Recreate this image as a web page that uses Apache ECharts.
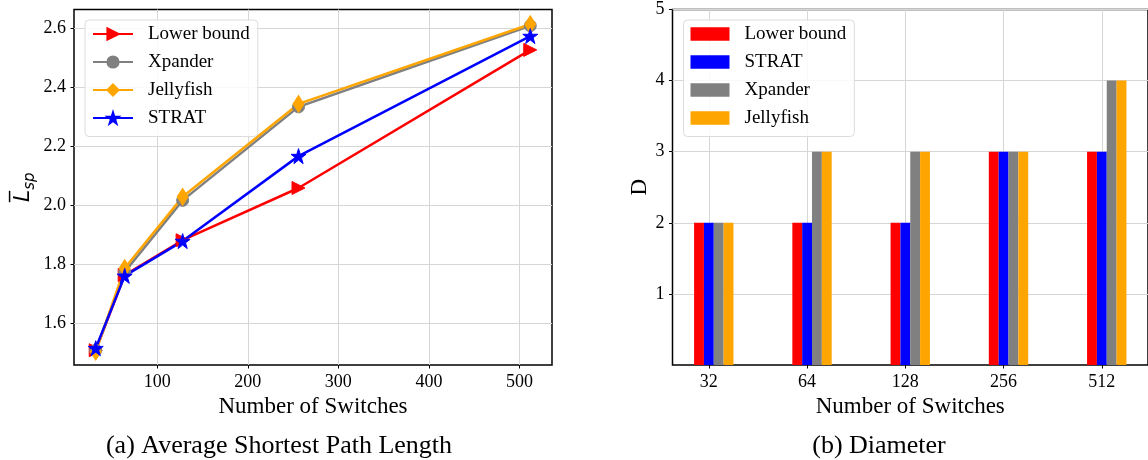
<!DOCTYPE html>
<html>
<head>
<meta charset="utf-8">
<script src="https://cdn.jsdelivr.net/npm/echarts@6/dist/echarts.min.js"></script>
<style>
  html, body { margin: 0; padding: 0; background: #fff; }
  #chart { width: 1148px; height: 460px; }
</style>
</head>
<body>
<div id="chart"></div>
<script>
// (a) average shortest path length
const switchCounts = [32, 64, 128, 256, 512];
const lowerBoundAvg = [1.51, 1.765, 1.883, 2.06, 2.528];
const xpanderAvg = [1.51, 1.775, 2.018, 2.335, 2.61];
const jellyfishAvg = [1.505, 1.788, 2.03, 2.345, 2.615];
const stratAvg = [1.517, 1.762, 1.88, 2.168, 2.575];
const avgXTicks = [100, 200, 300, 400, 500];
const avgYTicks = [1.6, 1.8, 2.0, 2.2, 2.4, 2.6];

// (b) diameter
const switchLabels = ['32', '64', '128', '256', '512'];
const lowerBoundDiam = [2, 2, 2, 3, 3];
const stratDiam = [2, 2, 2, 3, 3];
const xpanderDiam = [2, 3, 3, 3, 4];
const jellyfishDiam = [2, 3, 3, 3, 4];
const diamXTicks = [0, 1, 2, 3, 4];
const diamYTicks = [1, 2, 3, 4, 5];

const RED = '#ff0000', BLUE = '#0000ff', GRAY = '#808080', ORANGE = '#ffa500';
const SERIF = 'Liberation Serif';
const STAR = 'path://M50,0L61.2,34.5L97.6,34.5L68.2,55.9L79.4,90.5L50,69.1L20.6,90.5L31.8,55.9L2.4,34.5L38.8,34.5Z';
const BAR_W = 9.84;

const chart = echarts.init(document.getElementById('chart'));

function pairs(xs, ys) {
  return xs.map((x, i) => [x, ys[i]]);
}

function lineSeries(name, vals, color, symbol, size, rotate) {
  return {
    type: 'line', name: name, xAxisIndex: 0, yAxisIndex: 0,
    data: pairs(switchCounts, vals),
    symbol: symbol, symbolSize: size, symbolRotate: rotate || 0,
    showAllSymbol: true,
    lineStyle: { color: color, width: 2.5 },
    itemStyle: { color: color, borderColor: color, borderWidth: 1 },
    emphasis: { disabled: true },
    animation: false
  };
}

function barSeries(name, vals, color) {
  return {
    type: 'bar', name: name, xAxisIndex: 1, yAxisIndex: 1,
    data: pairs(diamXTicks, vals),
    barWidth: BAR_W, barGap: '0%',
    itemStyle: { color: color },
    emphasis: { disabled: true },
    animation: false
  };
}

const tickStyle = { fontFamily: SERIF, fontSize: 18, color: '#000' };
const axisTitle = { fontFamily: SERIF, fontSize: 23, color: '#000' };
const gridLine = { show: true, lineStyle: { color: '#d6d6d6', width: 1 } };
const noLine = { show: false, onZero: false };
const legendBase = {
  orient: 'vertical', top: 20, itemGap: 9,
  padding: [4.5, 8, 9, 7],
  backgroundColor: 'rgba(255,255,255,0.85)',
  borderColor: '#dcdcdc', borderWidth: 1, borderRadius: 4,
  textStyle: { fontFamily: SERIF, fontSize: 19, color: '#000', padding: [0, 0, 0, 10] },
  selectedMode: false
};

const option = {
  animation: false,
  grid: [
    { left: 74, top: 9.5, width: 478, height: 355.5, show: true, borderColor: '#000', borderWidth: 1.5 },
    { left: 672.5, top: 9.5, width: 475.5, height: 355.5, show: true, borderColor: '#000', borderWidth: 1.5 }
  ],
  xAxis: [
    {
      type: 'value', gridIndex: 0, min: 8, max: 536,
      axisLine: noLine,
      axisTick: { show: true, length: 3.5, lineStyle: { color: '#000' }, customValues: avgXTicks },
      axisLabel: Object.assign({ margin: 8, customValues: avgXTicks }, tickStyle),
      splitLine: gridLine,
      name: 'Number of Switches', nameLocation: 'middle', nameGap: 29, nameTextStyle: axisTitle
    },
    {
      type: 'value', gridIndex: 1, min: -0.37, max: 4.47,
      axisLine: noLine,
      axisTick: { show: true, length: 3.5, lineStyle: { color: '#000' }, customValues: diamXTicks },
      axisLabel: Object.assign({
        margin: 8, customValues: diamXTicks,
        formatter: v => switchLabels[Math.round(v)] || ''
      }, tickStyle),
      splitLine: gridLine,
      name: 'Number of Switches', nameLocation: 'middle', nameGap: 29, nameTextStyle: axisTitle
    }
  ],
  yAxis: [
    {
      type: 'value', gridIndex: 0, min: 1.46, max: 2.665,
      axisLine: noLine,
      axisTick: { show: true, length: 3.5, lineStyle: { color: '#000' }, customValues: avgYTicks },
      axisLabel: Object.assign({ margin: 8, customValues: avgYTicks, formatter: v => v.toFixed(1) }, tickStyle),
      splitLine: gridLine,
      name: '{l|L\u0305}{s|sp}', nameLocation: 'middle', nameGap: 36,
      nameTextStyle: {
        rich: {
          l: { fontFamily: 'DejaVu Sans', fontStyle: 'italic', fontSize: 22, color: '#000', lineHeight: 30 },
          s: { fontFamily: 'DejaVu Sans', fontStyle: 'italic', fontSize: 15, color: '#000', lineHeight: 15, verticalAlign: 'bottom' }
        }
      }
    },
    {
      type: 'value', gridIndex: 1, min: 0, max: 5, interval: 1,
      axisLine: noLine,
      axisTick: { show: true, length: 3.5, lineStyle: { color: '#000' }, customValues: diamYTicks },
      axisLabel: Object.assign({ margin: 8, customValues: diamYTicks }, tickStyle),
      splitLine: gridLine,
      name: 'D', nameLocation: 'middle', nameGap: 21, nameTextStyle: axisTitle
    }
  ],
  legend: [
    Object.assign({}, legendBase, {
      left: 85, itemWidth: 40, itemHeight: 14,
      data: ['Lower bound', 'Xpander', 'Jellyfish', 'STRAT']
    }),
    Object.assign({}, legendBase, {
      left: 683.5, itemWidth: 39, itemHeight: 13.5, icon: 'rect',
      data: ['Lower bound (b)', 'STRAT (b)', 'Xpander (b)', 'Jellyfish (b)'],
      formatter: name => name.replace(' (b)', '')
    })
  ],
  series: [
    lineSeries('Lower bound', lowerBoundAvg, RED, 'triangle', 13, -90),
    lineSeries('Xpander', xpanderAvg, GRAY, 'circle', 12),
    lineSeries('Jellyfish', jellyfishAvg, ORANGE, 'diamond', [11, 17]),
    lineSeries('STRAT', stratAvg, BLUE, STAR, 15),
    // empty slot so the tick falls on the STRAT bar, as in the original
    { type: 'bar', name: '', xAxisIndex: 1, yAxisIndex: 1, data: [], barWidth: BAR_W, barGap: '0%' },
    barSeries('Lower bound (b)', lowerBoundDiam, RED),
    barSeries('STRAT (b)', stratDiam, BLUE),
    barSeries('Xpander (b)', xpanderDiam, GRAY),
    barSeries('Jellyfish (b)', jellyfishDiam, ORANGE)
  ],
  graphic: [
    {
      type: 'text', x: 279, y: 446,
      style: { text: '(a) Average Shortest Path Length', align: 'center', verticalAlign: 'middle',
               fontFamily: SERIF, fontSize: 26, fill: '#000' }
    },
    {
      type: 'text', x: 879, y: 446,
      style: { text: '(b) Diameter', align: 'center', verticalAlign: 'middle',
               fontFamily: SERIF, fontSize: 26, fill: '#000' }
    }
  ]
};

chart.setOption(option);
</script>
</body>
</html>
